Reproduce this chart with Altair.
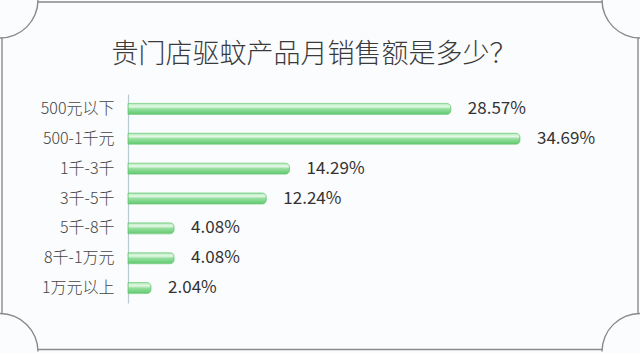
import altair as alt
import pandas as pd

categories = ["500元以下", "500-1千元", "1千-3千", "3千-5千", "5千-8千", "8千-1万元", "1万元以上"]
values = [28.57, 34.69, 14.29, 12.24, 4.08, 4.08, 2.04]
labels = ["28.57%", "34.69%", "14.29%", "12.24%", "4.08%", "4.08%", "2.04%"]
title_text = "贵门店驱蚊产品月销售额是多少？"

df = pd.DataFrame({"cat": categories, "val": values, "lab": labels})

FONT = "Noto Sans CJK SC"
OX, OY = 128, 94  # plot origin on page
W, H = 452, 209

grad = alt.Gradient(
    gradient="linear",
    stops=[
        alt.GradientStop(color="#b4ebb9", offset=0),
        alt.GradientStop(color="#e4f8e6", offset=0.3),
        alt.GradientStop(color="#96de9f", offset=0.5),
        alt.GradientStop(color="#74d381", offset=0.8),
        alt.GradientStop(color="#62c56f", offset=1),
    ],
    x1=0, x2=0, y1=0, y2=1,
)

y_enc = alt.Y("cat:N", sort=categories, title=None,
              scale=alt.Scale(paddingInner=0.0, paddingOuter=0.0),
              axis=alt.Axis(ticks=False, labelPadding=14, labelFontSize=16,
                            labelColor="#444444", labelFont=FONT, labelFontWeight=300,
                            domainColor="#b9cbd6", domainWidth=1.2, grid=False))
x_enc = alt.X("val:Q", scale=alt.Scale(domain=[0, 40]), axis=None, title=None)

bars = alt.Chart(df).mark_bar(size=11, fill=grad, stroke="#6cc878", strokeWidth=0.7,
                              cornerRadiusEnd=4).encode(x=x_enc, y=y_enc)
text = alt.Chart(df).mark_text(align="left", baseline="middle", dx=17, fontSize=17,
                               font=FONT, color="#333333").encode(
    x=x_enc, y=alt.Y("cat:N", sort=categories), text="lab:N")

one = alt.Data(values=[{"a": 1}])
FC = "#8a8a8a"
R = 38

def rule(x1, x2, y1, y2):
    return alt.Chart(one).mark_rule(color=FC, strokeWidth=1.4).encode(
        x=alt.value(x1 - OX), x2=alt.value(x2 - OX),
        y=alt.value(y1 - OY), y2=alt.value(y2 - OY))

def arc(cx, cy, t1, t2):
    return alt.Chart(one).mark_arc(radius=R + 0.7, radius2=R - 0.7, theta=t1, theta2=t2,
                                   fill=FC, stroke=None).encode(
        x=alt.value(cx - OX), y=alt.value(cy - OY))

pi = 3.141592653589793
frame = [
    rule(R, 640 - R, 2, 2),
    rule(R, 640 - R, 349.5, 349.5),
    rule(2, 2, R, 351 - R),
    rule(638, 638, R, 351 - R),
    arc(0, 0, pi / 2, pi),
    arc(640, 0, pi, 1.5 * pi),
    arc(640, 351.5, 1.5 * pi, 2 * pi),
    arc(0, 351.5, 0.0001, pi / 2),
]

title = alt.Chart(one).mark_text(fontSize=27, font=FONT, color="#3a3a3a", align="center",
                                 baseline="middle", fontWeight=300).encode(
    x=alt.value(314 - OX), y=alt.value(55 - OY), text=alt.value(title_text))

chart = alt.layer(bars, text, title, *frame).properties(
    width=W, height=H,
    autosize=alt.AutoSizeParams(type="none"),
    padding={"left": OX, "top": OY, "right": 640 - OX - W, "bottom": 353 - OY - H},
    background="#fbfcfd",
).configure_view(stroke=None)

chart.save("out.html", embed_options={"renderer": "svg", "actions": False})
